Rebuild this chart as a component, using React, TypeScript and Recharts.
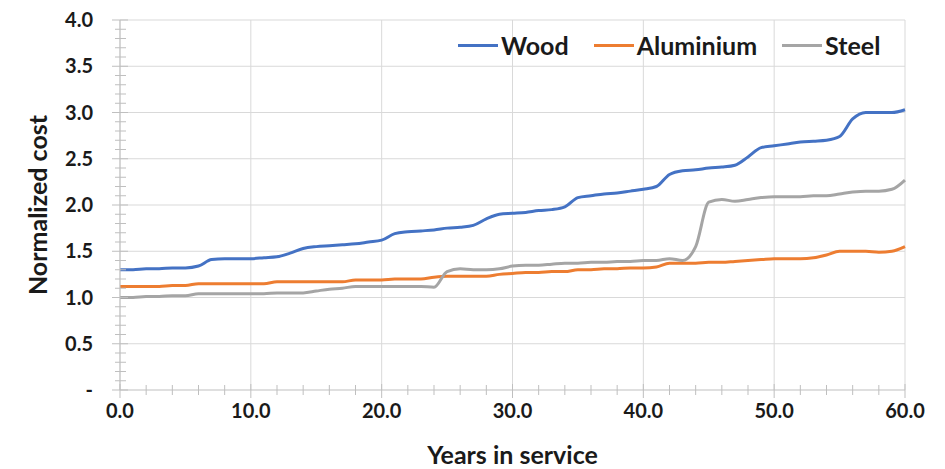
import { CartesianGrid, Legend, Line, LineChart, XAxis, YAxis } from "recharts";

// years in service, one reading per year
const years = Array.from({ length: 61 }, (_, i) => i);
const seriesNames = ["Wood", "Aluminium", "Steel"];

const wood = [
  1.3, 1.3, 1.31, 1.31, 1.32, 1.32, 1.34, 1.41, 1.42, 1.42, 1.42, 1.43, 1.44, 1.48, 1.53, 1.55, 1.56, 1.57, 1.58, 1.6,
  1.62, 1.69, 1.71, 1.72, 1.73, 1.75, 1.76, 1.78, 1.85, 1.9, 1.91, 1.92, 1.94, 1.95, 1.98, 2.08, 2.1, 2.12, 2.13, 2.15,
  2.17, 2.2, 2.33, 2.37, 2.38, 2.4, 2.41, 2.43, 2.52, 2.62, 2.64, 2.66, 2.68, 2.69, 2.7, 2.74, 2.93, 3.0, 3.0, 3.0,
  3.03,
];
const aluminium = [
  1.12, 1.12, 1.12, 1.12, 1.13, 1.13, 1.15, 1.15, 1.15, 1.15, 1.15, 1.15, 1.17, 1.17, 1.17, 1.17, 1.17, 1.17, 1.19, 1.19,
  1.19, 1.2, 1.2, 1.2, 1.22, 1.23, 1.23, 1.23, 1.23, 1.25, 1.26, 1.27, 1.27, 1.28, 1.28, 1.3, 1.3, 1.31, 1.31, 1.32,
  1.32, 1.33, 1.37, 1.37, 1.37, 1.38, 1.38, 1.39, 1.4, 1.41, 1.42, 1.42, 1.42, 1.43, 1.46, 1.5, 1.5, 1.5, 1.49, 1.5,
  1.55,
];
const steel = [
  1.0, 1.0, 1.01, 1.01, 1.02, 1.02, 1.04, 1.04, 1.04, 1.04, 1.04, 1.04, 1.05, 1.05, 1.05, 1.07, 1.09, 1.1, 1.12, 1.12,
  1.12, 1.12, 1.12, 1.12, 1.11, 1.28, 1.31, 1.3, 1.3, 1.31, 1.34, 1.35, 1.35, 1.36, 1.37, 1.37, 1.38, 1.38, 1.39, 1.39,
  1.4, 1.4, 1.42, 1.4, 1.55, 2.03, 2.06, 2.04, 2.06, 2.08, 2.09, 2.09, 2.09, 2.1, 2.1, 2.12, 2.14, 2.15, 2.15, 2.17,
  2.27,
];

const yMajor = [0.5, 1.0, 1.5, 2.0, 2.5, 3.0, 3.5, 4.0];
const yTicks = Array.from({ length: 41 }, (_, i) => i / 10);
const xMajor = [0, 10, 20, 30, 40, 50, 60];
const xTicks = Array.from({ length: 31 }, (_, i) => i * 2);

const data = years.map((year, i) => ({
  year,
  Wood: wood[i],
  Aluminium: aluminium[i],
  Steel: steel[i],
}));

const axisGrey = "#bfbfbf";
const textColor = "#1a1a1a";

function YTick({ x, y, payload }: any) {
  const v = payload.value;
  const major = Math.abs(v * 2 - Math.round(v * 2)) < 1e-6;
  return (
    <g>
      <line x1={x - (major ? 8 : 5)} x2={x + (major ? 8 : 6)} y1={y} y2={y} stroke={axisGrey} />
      {major && (
        <text x={x - 27} y={y} dy="0.35em" textAnchor="end" fontSize={20} fontWeight={700} fill={textColor}>
          {v === 0 ? "-" : v.toFixed(1)}
        </text>
      )}
    </g>
  );
}

function XTick({ x, y, payload }: any) {
  const v = payload.value;
  const major = v % 10 === 0;
  return (
    <g>
      <line x1={x} x2={x} y1={y - (major ? 6 : 5)} y2={y + (major ? 8 : 5)} stroke={axisGrey} />
      {major && (
        <text x={x} y={y + 21} dy="0.35em" textAnchor="middle" fontSize={20} fontWeight={700} fill={textColor}>
          {v.toFixed(1)}
        </text>
      )}
    </g>
  );
}

function LegendContent({ payload }: any) {
  const items = seriesNames
    .map((name) => (payload || []).find((p: any) => p.value === name))
    .filter(Boolean);
  return (
    <div style={{ display: "flex", alignItems: "center", gap: 25 }}>
      {items.map((entry: any) => (
        <div key={entry.value} style={{ display: "flex", alignItems: "center", gap: 3 }}>
          <span style={{ display: "inline-block", width: 40, height: 3, background: entry.color }} />
          <span style={{ fontSize: 25, fontWeight: 700, color: textColor }}>{entry.value}</span>
        </div>
      ))}
    </div>
  );
}

export default function App() {
  return (
    <div style={{ fontFamily: "Lato, 'Open Sans', sans-serif" }}>
      <LineChart width={929} height={461} data={data} margin={{ top: 12, right: 32, bottom: 39, left: 0 }}>
        <CartesianGrid stroke="#d9d9d9" horizontalValues={yMajor} verticalValues={xMajor} />
        <XAxis
          dataKey="year"
          type="number"
          domain={[0, 60]}
          ticks={xTicks}
          interval={0}
          height={40}
          tickSize={0}
          tickMargin={0}
          tickLine={false}
          axisLine={{ stroke: axisGrey }}
          tick={(props: any) => <XTick {...props} />}
          label={{
            value: "Years in service",
            position: "center",
            dy: 45,
            fontSize: 25,
            fontWeight: 700,
            fill: textColor,
          }}
        />
        <YAxis
          type="number"
          domain={[0, 4]}
          ticks={yTicks}
          interval={0}
          width={112}
          tickSize={0}
          tickMargin={0}
          tickLine={false}
          axisLine={{ stroke: axisGrey }}
          tick={(props: any) => <YTick {...props} />}
          label={{
            value: "Normalized cost",
            angle: -90,
            position: "center",
            dx: -26,
            fontSize: 25,
            fontWeight: 700,
            fill: textColor,
          }}
        />
        <Legend
          layout="horizontal"
          verticalAlign="middle"
          align="center"
          wrapperStyle={{ top: 22, left: 450, width: 470 }}
          content={(props: any) => <LegendContent {...props} />}
        />
        <Line type="monotone" dataKey="Wood" stroke="#4472c4" strokeWidth={3} dot={false} isAnimationActive={false} />
        <Line type="monotone" dataKey="Aluminium" stroke="#ed7d31" strokeWidth={3} dot={false} isAnimationActive={false} />
        <Line type="monotone" dataKey="Steel" stroke="#a5a5a5" strokeWidth={3} dot={false} isAnimationActive={false} />
      </LineChart>
    </div>
  );
}
